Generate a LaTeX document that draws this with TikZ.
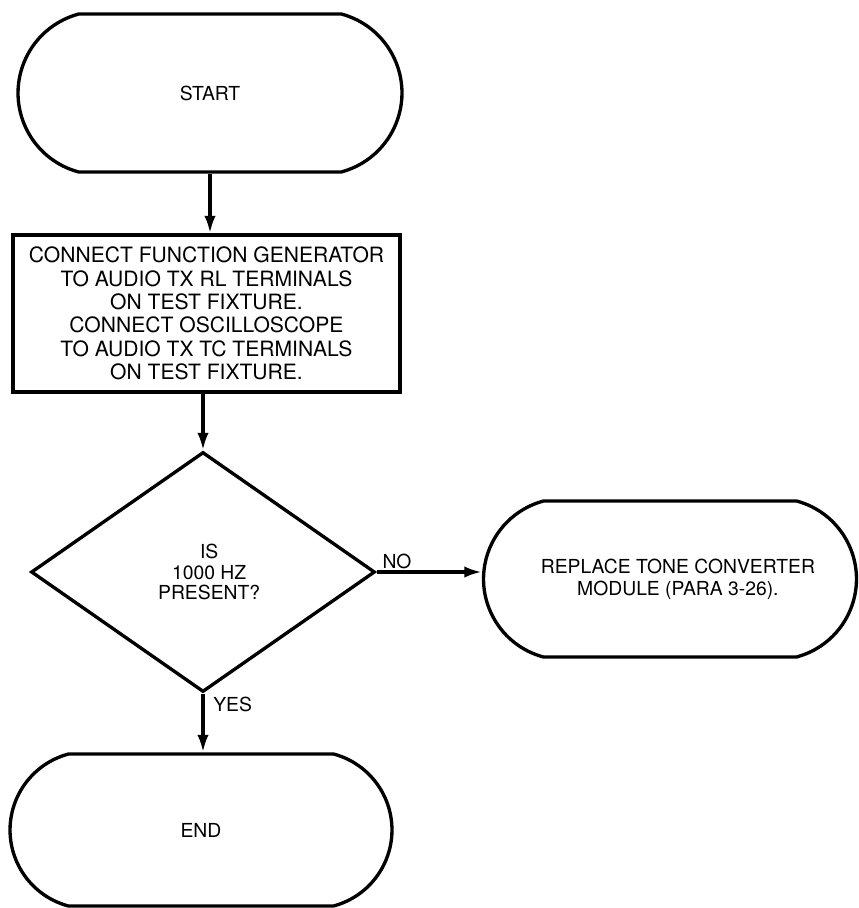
\documentclass[tikz,border=0pt]{standalone}
\usepackage{fontspec}
\setmainfont{TeX Gyre Heros}
\usetikzlibrary{shapes.misc,shapes.geometric,arrows.meta}

\tikzset{
  flowline/.style={line width=1.9pt},
  flowarrow/.style={flowline,-{Latex[length=10pt,width=6.5pt]}},
  terminal/.style={draw,flowline,rounded rectangle,rounded rectangle arc length=150,
    inner sep=0pt,align=center,font=\fontsize{11}{12.5}\selectfont},
  process/.style={draw,flowline,inner sep=0pt,align=center,font=\fontsize{12}{13.3}\selectfont},
  decision/.style={draw,flowline,diamond,inner sep=0pt,align=center,font=\fontsize{11}{11.6}\selectfont}
}

\begin{document}
\begin{tikzpicture}[x=0.02cm,y=-0.02cm,font=\fontsize{11}{13}\selectfont]
\useasboundingbox (0,0) rectangle (858,908);
\fill[white] (0,0) rectangle (858,908);

% boxes of the chart
\node[terminal,minimum width=7.68cm,minimum height=3.16cm] (start) at (210,93) {START};
\node[process,minimum width=7.74cm,minimum height=3.14cm] (connect) at (206.5,313.5)
  {CONNECT FUNCTION GENERATOR\\TO AUDIO TX RL TERMINALS\\ON TEST FIXTURE.\\
   CONNECT OSCILLOSCOPE\\TO AUDIO TX TC TERMINALS\\ON TEST FIXTURE.};
\node[decision,minimum width=6.88cm,minimum height=4.8cm] (tone) at (203,572)
  {\hspace*{7pt}IS\\\hspace*{7pt}1000 HZ\\\hspace*{7pt}PRESENT?};
\node[terminal,minimum width=7.46cm,minimum height=3.12cm] (replace) at (670,579)
  {\hspace*{9pt}REPLACE TONE CONVERTER\\\hspace*{9pt}MODULE (PARA 3-26).};
\node[terminal,minimum width=7.64cm,minimum height=3.04cm] (stop) at (201,830) {END};

% connectors
\draw[flowarrow] (start.south) -- (start.south |- connect.north);
\draw[flowarrow] (connect.south -| tone.north) -- (tone.north);
\draw[flowarrow] (tone.east) -- (tone.east -| replace.west);
\draw[flowarrow] (tone.south) -- (tone.south |- stop.north);

% branch labels
\node (no) at (397,561) {NO};
\node[anchor=west,inner sep=0pt] (yes) at (213,704) {YES};
\end{tikzpicture}
\end{document}
